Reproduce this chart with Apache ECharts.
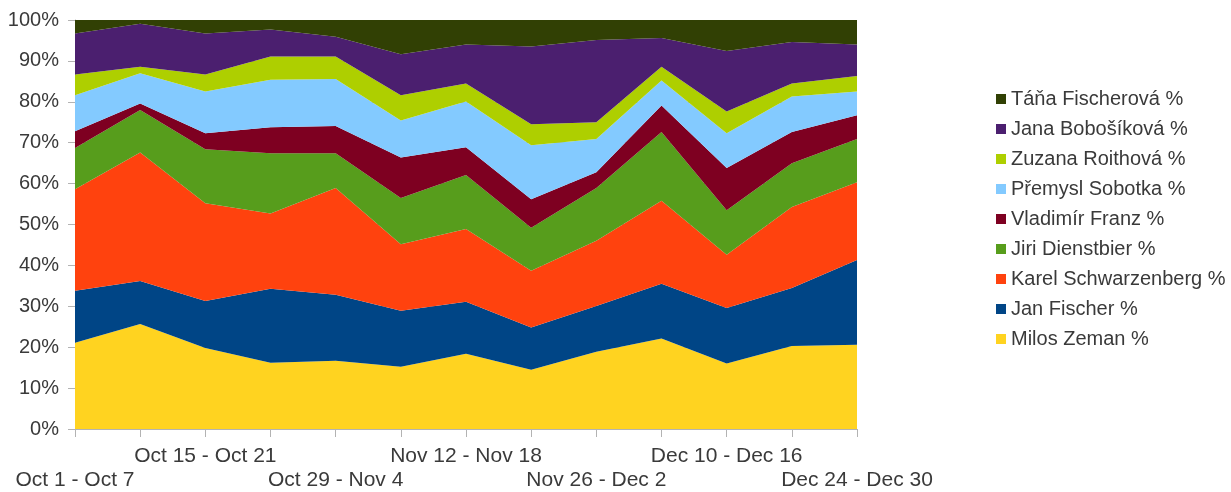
<!DOCTYPE html>
<html>
<head>
<meta charset="utf-8">
<script src="https://cdn.jsdelivr.net/npm/echarts@6/dist/echarts.min.js"></script>
<style>
html,body{margin:0;padding:0;background:#fff;}
#chart{width:1231px;height:492px;}
</style>
</head>
<body>
<div id="chart"></div>
<script>
var categories = ["Oct 1 - Oct 7","Oct 8 - Oct 14","Oct 15 - Oct 21","Oct 22 - Oct 28","Oct 29 - Nov 4","Nov 5 - Nov 11","Nov 12 - Nov 18","Nov 19 - Nov 25","Nov 26 - Dec 2","Dec 3 - Dec 9","Dec 10 - Dec 16","Dec 17 - Dec 23","Dec 24 - Dec 30"];
var zeman         = [21.1, 25.7, 19.8, 16.2, 16.7, 15.2, 18.4, 14.5, 18.9, 22.1, 16.0, 20.3, 20.6];
var fischer       = [12.7, 10.5, 11.5, 18.1, 16.1, 13.7, 12.7, 10.3, 11.2, 13.4, 13.6, 14.2, 20.7];
var schwarzenberg = [24.8, 31.4, 23.9, 18.4, 26.1, 16.3, 17.8, 13.9, 15.9, 20.3, 13.0, 19.8, 19.0];
var dienstbier    = [10.1, 10.4, 13.2, 14.7,  8.5, 11.3, 13.2, 10.5, 12.9, 16.8, 10.9, 10.7, 10.6];
var franz         = [ 4.1,  1.6,  3.9,  6.4,  6.7,  9.9,  6.8,  7.0,  3.9,  6.5, 10.3,  7.6,  5.8];
var sobotka       = [ 8.8,  7.4, 10.2, 11.6, 11.5,  9.0, 11.2, 13.2,  8.1,  6.1,  8.5,  8.7,  5.8];
var roithova      = [ 5.1,  1.6,  4.2,  5.7,  5.5,  6.2,  4.4,  5.1,  4.1,  3.4,  5.3,  3.2,  3.8];
var bobosikova    = [10.0, 10.5, 10.0,  6.6,  4.8, 10.0,  9.5, 19.0, 20.1,  7.0, 14.8, 10.1,  7.7];
var fischerova    = [ 3.3,  0.9,  3.3,  2.3,  4.1,  8.4,  6.0,  6.5,  4.9,  4.4,  7.6,  5.4,  6.0];

var seriesNames = ["Milos Zeman %","Jan Fischer %","Karel Schwarzenberg %","Jiri Dienstbier %","Vladimír Franz %","Přemysl Sobotka %","Zuzana Roithová %","Jana Bobošíková %","Táňa Fischerová %"];
var seriesData = [zeman, fischer, schwarzenberg, dienstbier, franz, sobotka, roithova, bobosikova, fischerova];
var colors = ["#ffd320","#004586","#ff420e","#579d1c","#7e0021","#83caff","#aecf00","#4b1f6f","#314004"];

var textColor = "#3a3a3a";
var font = "'Liberation Sans', Arial, sans-serif";

var chart = echarts.init(document.getElementById('chart'), null, {renderer:'canvas'});
chart.setOption({
  animation: false,
  color: colors,
  textStyle: {fontFamily: font},
  grid: {left: 75, right: 374, top: 20, bottom: 61, containLabel: false},
  legend: {
    orient: 'vertical',
    left: 991,
    top: 84,
    itemWidth: 10,
    itemHeight: 10,
    itemGap: 10,
    icon: 'rect',
    data: seriesNames.slice().reverse(),
    textStyle: {fontSize: 20, color: textColor, fontFamily: font, lineHeight: 20}
  },
  xAxis: {
    type: 'category',
    data: categories,
    boundaryGap: false,
    axisLine: {lineStyle: {color: '#b3b3b3'}},
    axisTick: {show: true, length: 8, interval: 0, lineStyle: {color: '#b3b3b3'}},
    axisLabel: {
      interval: 0,
      margin: 15,
      fontSize: 21,
      color: textColor,
      fontFamily: font,
      lineHeight: 24,
      formatter: function (v, i) {
        if (i % 2 === 1) return '';
        if (i % 4 === 2) return v;
        return '\n' + v;
      }
    },
    splitLine: {show: false}
  },
  yAxis: {
    type: 'value',
    min: 0,
    max: 100,
    interval: 10,
    axisLine: {show: true, lineStyle: {color: '#b3b3b3'}},
    axisTick: {show: true, length: 7, lineStyle: {color: '#b3b3b3'}},
    axisLabel: {formatter: '{value}%', fontSize: 20, color: textColor, fontFamily: font, margin: 16},
    splitLine: {show: true, lineStyle: {color: '#b3b3b3'}}
  },
  series: seriesNames.map(function (name, k) {
    return {
      name: name,
      type: 'line',
      stack: 'total',
      data: seriesData[k],
      symbol: 'none',
      lineStyle: {width: 0},
      areaStyle: {opacity: 1, color: colors[k]},
      itemStyle: {color: colors[k]}
    };
  })
});
</script>
</body>
</html>
